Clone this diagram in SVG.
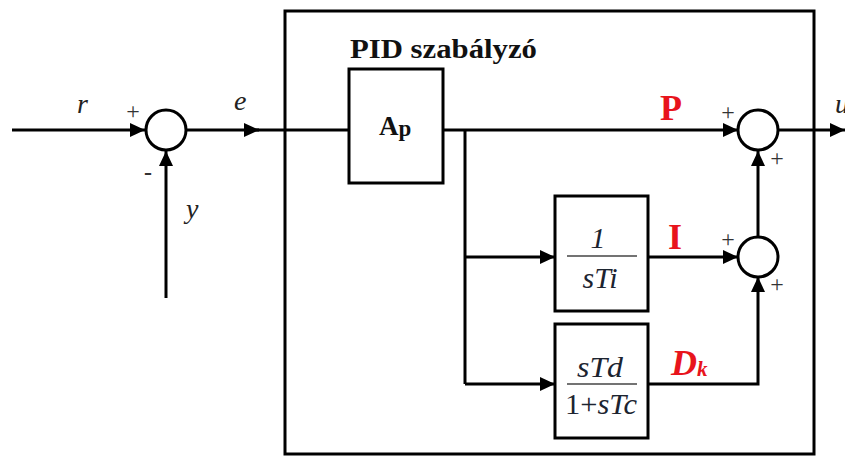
<svg xmlns="http://www.w3.org/2000/svg" width="845" height="456" viewBox="0 0 845 456">
<style>
.ln{fill:none;stroke:#000;stroke-width:3}
.bx{fill:#fff;stroke:#000;stroke-width:3}
.sum{fill:#fff;stroke:#000;stroke-width:3}
.ser{font-family:"Liberation Serif","Times New Roman","DejaVu Serif",serif}
.lbl{font-style:italic;font-size:28px;fill:#222}
.pm{font-size:24px;fill:#333;text-anchor:middle}
.red{font-weight:bold;font-size:36px;fill:#e8141c}
.frac{font-style:italic;font-size:30px;fill:#1c2430}
.fl{stroke:#444;stroke-width:1.5}
</style>
<defs>
<marker id="ar" markerUnits="userSpaceOnUse" markerWidth="16" markerHeight="14" refX="15" refY="7" orient="auto">
<path d="M0,0 L15,7 L0,14 Z" fill="#000"/>
</marker>
</defs>
<g id="pid-box">
<rect x="285" y="11" width="529" height="443" class="ln"/>
<text x="350" y="58" class="ser" font-weight="bold" font-size="27" textLength="187" lengthAdjust="spacingAndGlyphs" fill="#111">PID szabályzó</text>
</g>
<g id="connectors">
<path d="M12,130 H145" class="ln" marker-end="url(#ar)"/>
<path d="M186,130 H259" class="ln" marker-end="url(#ar)"/>
<path d="M255,130 H349" class="ln"/>
<path d="M166,298 V151" class="ln" marker-end="url(#ar)"/>
<path d="M443,130 H738" class="ln" marker-end="url(#ar)"/>
<path d="M465,130 V384" class="ln"/>
<path d="M465,257 H555" class="ln" marker-end="url(#ar)"/>
<path d="M465,384 H555" class="ln" marker-end="url(#ar)"/>
<path d="M648,257 H738" class="ln" marker-end="url(#ar)"/>
<path d="M648,384 H758 V277" class="ln" marker-end="url(#ar)"/>
<path d="M758,237 V151" class="ln" marker-end="url(#ar)"/>
<path d="M778,130 H845" class="ln" marker-end="url(#ar)"/>
</g>
<g id="sum1">
<circle cx="166" cy="130" r="20" class="sum"/>
<text x="133" y="119" class="ser pm">+</text>
<text x="148" y="180" class="ser pm" font-weight="bold">-</text>
</g>
<g id="labels">
<text x="77" y="113" class="ser lbl">r</text>
<text x="234" y="110" class="ser lbl">e</text>
<text x="186" y="218" class="ser lbl">y</text>
<text x="835" y="113" class="ser lbl">u</text>
</g>
<g id="ap">
<rect x="349" y="69" width="94" height="114" class="bx"/>
<text x="379" y="135" class="ser" font-weight="bold" font-size="27" fill="#111">A<tspan font-size="23" dy="1">p</tspan></text>
</g>
<g id="i-block">
<rect x="555" y="196" width="93" height="115" class="bx"/>
<text x="598" y="248" class="ser frac" text-anchor="middle" font-style="normal" font-size="32">1</text>
<line x1="567" y1="256" x2="637" y2="256" class="fl"/>
<text x="600" y="288" class="ser frac" text-anchor="middle">sTi</text>
</g>
<g id="d-block">
<rect x="555" y="324" width="93" height="114" class="bx"/>
<text x="577" y="377" class="ser frac" textLength="46" lengthAdjust="spacingAndGlyphs">sTd</text>
<line x1="567" y1="384" x2="637" y2="384" class="fl"/>
<text x="565" y="414" class="ser frac" textLength="72" lengthAdjust="spacingAndGlyphs"><tspan font-style="normal">1+</tspan>sTc</text>
</g>
<g id="sum2">
<circle cx="758" cy="130" r="20" class="sum"/>
<text x="728" y="120" class="ser pm">+</text>
<text x="777" y="166" class="ser pm">+</text>
</g>
<g id="sum3">
<circle cx="758" cy="257" r="20" class="sum"/>
<text x="728" y="247" class="ser pm">+</text>
<text x="777" y="292" class="ser pm">+</text>
</g>
<g id="branch-labels">
<text x="660" y="120" class="ser red">P</text>
<text x="668" y="249" class="ser red">I</text>
<text x="671" y="375" class="ser red" font-style="italic" font-size="30">D<tspan font-size="21" dy="1">k</tspan></text>
</g>
</svg>
